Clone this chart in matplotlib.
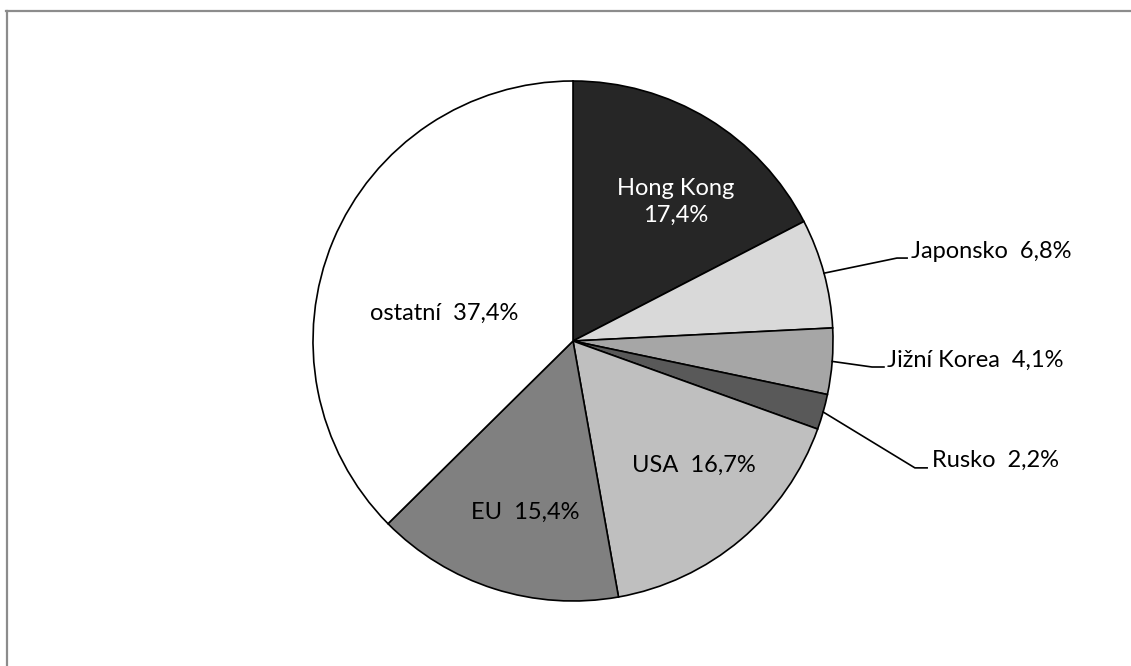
import numpy as np
import matplotlib
matplotlib.use("Agg")
import matplotlib.pyplot as plt
from matplotlib.lines import Line2D

plt.rcParams['font.family'] = ['Lato', 'DejaVu Sans']

# data
names = ["Hong Kong", "Japonsko", "Jižní Korea", "Rusko", "USA", "EU", "ostatní"]
shares = [17.4, 6.8, 4.1, 2.2, 16.7, 15.4, 37.4]
colors = ["#262626", "#d9d9d9", "#a6a6a6", "#595959", "#bfbfbf", "#808080", "#ffffff"]

# label layout (axes data units, radius = 1)
inside = {
    "Hong Kong": (0.396, 0.535),
    "USA": (0.463, -0.477),
    "EU": (-0.185, -0.658),
    "ostatní": (-0.494, 0.108),
}
# elbow x, line end x, text x, line y, text y
outside = {
    "Japonsko": (1.246, 1.285, 1.300, 0.319, 0.346),
    "Jižní Korea": (1.150, 1.196, 1.208, -0.100, -0.073),
    "Rusko": (1.315, 1.362, 1.381, -0.488, -0.458),
}

W, H = 1131, 666
fig = plt.figure(figsize=(W / 100, H / 100), dpi=100)

# partial frame (only top and left visible)
fig.add_artist(Line2D([6 / W, 1], [1 - 10.5 / H, 1 - 10.5 / H], color="#8c8c8c", lw=1.6))
fig.add_artist(Line2D([6.5 / W, 6.5 / W], [0, 1 - 10.5 / H], color="#8c8c8c", lw=1.6))

cx, cy, r = 573, 666 - 341, 260
ax = fig.add_axes([(cx - r) / W, (cy - r) / H, 2 * r / W, 2 * r / H])
ax.pie(shares, colors=colors, startangle=90, counterclock=False, radius=1,
       wedgeprops=dict(edgecolor="black", linewidth=1.2))
ax.set_xlim(-1, 1)
ax.set_ylim(-1, 1)
ax.set_axis_off()

fs = 17

def fmt(v):
    return f"{v:.1f}".replace(".", ",") + "%"

cum = 0.0
for name, v in zip(names, shares):
    mid = cum + v / 2
    cum += v
    ang = np.deg2rad(90 - mid / 100 * 360)
    if name in inside:
        x, y = inside[name]
        col = "white" if name == "Hong Kong" else "black"
        txt = f"{name}\n{fmt(v)}" if name == "Hong Kong" else f"{name}  {fmt(v)}"
        ax.text(x, y, txt, ha="center", va="center", fontsize=fs, color=col,
                linespacing=1.4)
    else:
        ex, lx, tx, ly, ty = outside[name]
        px, py = np.cos(ang), np.sin(ang)
        ax.plot([px, ex, lx], [py, ly, ly], color="black", lw=1.2, clip_on=False)
        ax.text(tx, ty, f"{name}  {fmt(v)}", ha="left", va="center", fontsize=fs,
                clip_on=False)

fig.savefig("out.png", dpi=100)
